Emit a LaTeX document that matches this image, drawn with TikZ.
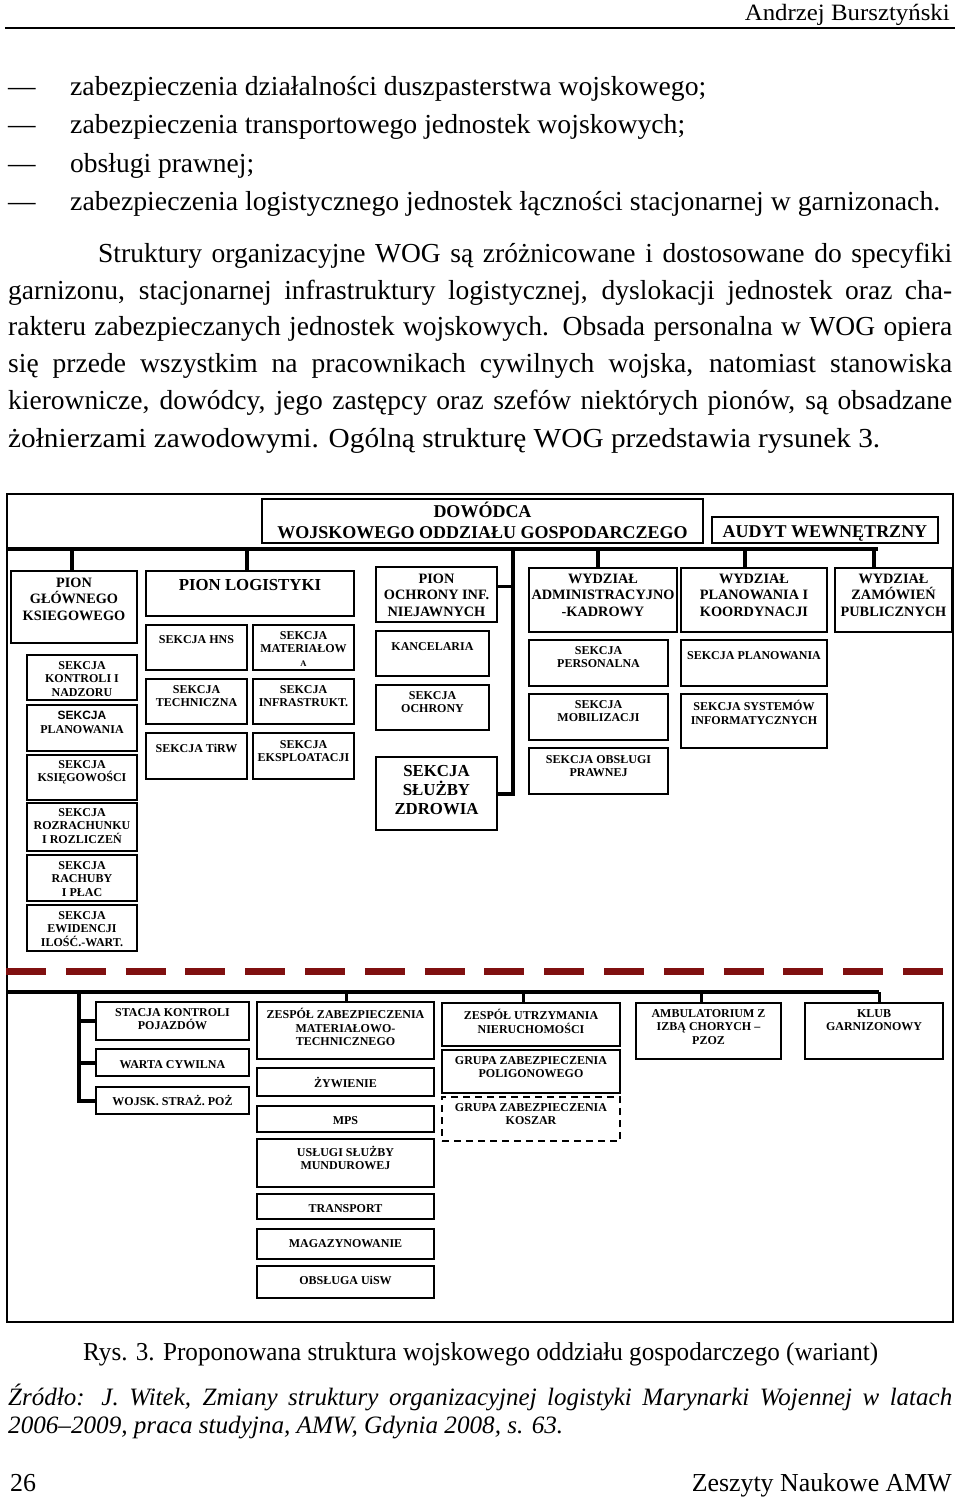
\documentclass[tikz,border=0pt]{standalone}
\usepackage{graphicx}
\usepackage{fontspec}
\setmainfont{Liberation Serif}
\newfontfamily\sansfam{Liberation Sans}
\usetikzlibrary{fit}
\newsavebox\lnbox
\newcommand\jline[2]{\sbox\lnbox{#2}\ifdim\wd\lnbox>#1\relax\resizebox{#1}{\height}{\usebox\lnbox}\else\makebox[#1][s]{#2}\fi}
\newcommand\fitw[2]{\resizebox{#1}{\height}{#2}}
\newcommand\bx[9][box]{\node[#1,fit={(#3,#4) (#5,#6)}] (#2) {};\node[#7] (#2-t) at ({(#3+#5)/2},#8) {#9};}
\definecolor{dashred}{RGB}{128,16,16}
\begin{document}
\begin{tikzpicture}[x=1pt,y=-1pt,
  box/.style={draw, line width=1.8pt, inner sep=0pt},
  dbox/.style={box, dash pattern=on 7pt off 5pt},
  bus/.style={line width=4pt},
  link/.style={line width=3pt},
  tx/.style={inner sep=0pt, align=center, anchor=north},
  t12/.style={tx, font=\bfseries\fontsize{12}{13.5}\selectfont, execute at begin node={\rule{0pt}{12pt}}, yshift=4pt},
  t14/.style={tx, font=\bfseries\fontsize{14.3}{16.3}\selectfont, execute at begin node={\rule{0pt}{14.3pt}}, yshift=5pt},
  t16/.style={tx, font=\bfseries\fontsize{16.8}{19}\selectfont, execute at begin node={\rule{0pt}{16.8pt}}, yshift=7pt},
  t18/.style={tx, font=\bfseries\fontsize{18}{21}\selectfont, execute at begin node={\rule{0pt}{18pt}}, yshift=9pt},
  bt/.style={anchor=base west, inner sep=0pt, font=\fontsize{27.5}{33}\selectfont},
  st/.style={anchor=base west, inner sep=0pt, font=\itshape\fontsize{25}{28}\selectfont},
  ct/.style={anchor=base west, inner sep=0pt, font=\fontsize{25.8}{30}\selectfont},
  ft/.style={inner sep=0pt, font=\fontsize{25.9}{30}\selectfont}
]
\useasboundingbox (0,0) rectangle (960,1497);
% header
\node[anchor=base east, inner sep=0pt, font=\fontsize{23.4}{28}\selectfont] (hdr) at (950,20) {\fitw{205pt}{Andrzej Bursztyński}};
\coordinate (hr1) at (5,28); \coordinate (hr2) at (955,28);
\draw[line width=1.5pt] (hr1) -- (hr2);
% bullets
\node[bt] (k1) at (8,95) {—};
\node[bt] (b1) at (70,95) {\fitw{636pt}{zabezpieczenia działalności duszpasterstwa wojskowego;}};
\node[bt] (k2) at (8,133) {—};
\node[bt] (b2) at (70,133) {\fitw{615pt}{zabezpieczenia transportowego jednostek wojskowych;}};
\node[bt] (k3) at (8,172) {—};
\node[bt] (b3) at (70,172) {\fitw{184pt}{obsługi prawnej;}};
\node[bt] (k4) at (8,210) {—};
\node[bt] (b4) at (70,210) {\fitw{870pt}{zabezpieczenia logistycznego jednostek łączności stacjonarnej w garnizonach.}};
% paragraph
\node[bt] (p1) at (98,262) {\jline{854pt}{Struktury organizacyjne WOG są zróżnicowane i dostosowane do specyfiki}};
\node[bt] (p2) at (8,299) {\jline{944pt}{garnizonu, stacjonarnej infrastruktury logistycznej, dyslokacji jednostek oraz cha-}};
\node[bt] (p3) at (8,335) {\jline{944pt}{rakteru zabezpieczanych jednostek wojskowych. Obsada personalna w WOG opiera}};
\node[bt] (p4) at (8,372) {\jline{944pt}{się przede wszystkim na pracownikach cywilnych wojska, natomiast stanowiska}};
\node[bt] (p5) at (8,409) {\jline{944pt}{kierownicze, dowódcy, jego zastępcy oraz szefów niektórych pionów, są obsadzane}};
\node[bt] (p6) at (8,447) {\fitw{872pt}{żołnierzami zawodowymi. Ogólną strukturę WOG przedstawia rysunek 3.}};

% ===== diagram =====
\node[box, line width=2.2pt, fit={(7,494) (953,1322)}] (frame) {};
% top bus
\coordinate (b1L) at (7,549); \coordinate (b1R) at (878,549);
\coordinate (d1) at (72,549); \coordinate (d2) at (247,549);
\coordinate (d3) at (598,549); \coordinate (d4) at (745,549); \coordinate (d5) at (874,549);
\coordinate (v1) at (513,549); \coordinate (v3) at (513,586);

\bx{dow}{262}{499}{703}{543}{t18}{511}{DOWÓDCA\\WOJSKOWEGO ODDZIAŁU GOSPODARCZEGO}
\bx{aud}{712}{517}{938}{543}{t18}{528}{AUDYT WEWNĘTRZNY}

\bx{pgk}{11}{571}{137}{643}{t14}{583}{PION\\GŁÓWNEGO\\KSIEGOWEGO}
\bx{skn}{27}{655}{137}{700}{t12}{665}{SEKCJA\\KONTROLI I\\NADZORU}
\bx{spl}{27}{705}{137}{751}{t12}{715}{{\sansfam\bfseries SEKCJA}\\PLANOWANIA}
\bx{sks}{27}{755}{137}{800}{t12}{764}{SEKCJA\\KSIĘGOWOŚCI}
\bx{srr}{27}{803}{137}{851}{t12}{812}{SEKCJA\\ROZRACHUNKU\\I ROZLICZEŃ}
\bx{srp}{27}{855}{137}{901}{t12}{865}{SEKCJA\\RACHUBY\\I PŁAC}
\bx{sew}{27}{905}{137}{951}{t12}{915}{SEKCJA\\EWIDENCJI\\ILOŚĆ.-WART.}

\bx{plog}{146}{571}{354}{616}{t16}{580}{PION LOGISTYKI}
\bx{shns}{146}{625}{247}{670}{t12}{635}{SEKCJA HNS}
\bx{smat}{253}{625}{354}{670}{t12}{635}{SEKCJA\\MATERIAŁOW\\{\fontsize{8.5}{10}\selectfont A}}
\bx{stech}{146}{679}{247}{724}{t12}{689}{SEKCJA\\TECHNICZNA}
\bx{sinf}{253}{679}{354}{724}{t12}{689}{SEKCJA\\INFRASTRUKT.}
\bx{stirw}{146}{733}{247}{779}{t12}{744}{SEKCJA TiRW}
\bx{seks}{253}{733}{354}{779}{t12}{744}{SEKCJA\\EKSPLOATACJI}

\bx{poin}{376}{567}{497}{622}{t14}{579}{PION\\OCHRONY INF.\\NIEJAWNYCH}
\bx{kanc}{376}{631}{489}{676}{t12}{642}{KANCELARIA}
\bx{soch}{376}{685}{489}{730}{t12}{695}{SEKCJA\\OCHRONY}
\bx{ssz}{376}{757}{497}{830}{t16}{772}{SEKCJA\\SŁUŻBY\\ZDROWIA}

\bx{wak}{529}{568}{677}{632}{t14}{579}{WYDZIAŁ\\ADMINISTRACYJNO\\-KADROWY}
\bx{wpk}{681}{568}{827}{632}{t14}{579}{WYDZIAŁ\\PLANOWANIA I\\KOORDYNACJI}
\bx{wzp}{835}{568}{952}{632}{t14}{579}{WYDZIAŁ\\ZAMÓWIEŃ\\PUBLICZNYCH}
\bx{sper}{529}{640}{668}{686}{t12}{650}{SEKCJA\\PERSONALNA}
\bx{smob}{529}{694}{668}{740}{t12}{704}{SEKCJA\\MOBILIZACJI}
\bx{sobp}{529}{748}{668}{794}{t12}{759}{SEKCJA OBSŁUGI\\PRAWNEJ}
\bx{splan}{681}{640}{827}{686}{t12}{651}{SEKCJA PLANOWANIA}
\bx{ssi}{681}{694}{827}{748}{t12}{704}{SEKCJA SYSTEMÓW\\INFORMATYCZNYCH}

\draw[bus] (b1L) -- (b1R);
\draw[bus] (d1) -- (d1 |- pgk.north);
\draw[bus] (d2) -- (d2 |- plog.north);
\draw[bus] (d3) -- (d3 |- wak.north);
\draw[bus] (d4) -- (d4 |- wpk.north);
\draw[bus] (d5) -- (d5 |- wzp.north);
\draw[bus] (v1) -- (v1 |- ssz.east) -- (ssz.east);
\draw[link] (v3) -- (v3 -| poin.east);

% red dashed separator
\coordinate (r1) at (6,971); \coordinate (r2) at (943,971);
\draw[dashred, line width=7pt, dash pattern=on 40pt off 19.8pt] (r1) -- (r2);

% bottom part
\coordinate (b2L) at (7,992); \coordinate (b2R) at (879,992);
\coordinate (e1) at (79,992); \coordinate (e2) at (346,992);
\coordinate (e3) at (523,992); \coordinate (e4) at (701,992); \coordinate (e5) at (879,992);

\bx{skp}{96}{1002}{249}{1040}{t12}{1012}{STACJA KONTROLI\\POJAZDÓW}
\bx{wcy}{96}{1049}{249}{1076}{t12}{1060}{WARTA CYWILNA}
\bx{wsp}{96}{1087}{249}{1114}{t12}{1097}{WOJSK. STRAŻ. POŻ}
\bx{zzm}{257}{1002}{434}{1059}{t12}{1012}{ZESPÓŁ ZABEZPIECZENIA\\MATERIAŁOWO-\\TECHNICZNEGO}
\bx{zyw}{257}{1068}{434}{1096}{t12}{1079}{ŻYWIENIE}
\bx{mps}{257}{1106}{434}{1132}{t12}{1116}{MPS}
\bx{usm}{257}{1139}{434}{1187}{t12}{1150}{USŁUGI SŁUŻBY\\MUNDUROWEJ}
\bx{trn}{257}{1194}{434}{1219}{t12}{1204}{TRANSPORT}
\bx{mag}{257}{1229}{434}{1259}{t12}{1239}{MAGAZYNOWANIE}
\bx{ouw}{257}{1266}{434}{1298}{t12}{1276}{OBSŁUGA UiSW}
\bx{zun}{442}{1003}{620}{1046}{t12}{1013}{ZESPÓŁ UTRZYMANIA\\NIERUCHOMOŚCI}
\bx{gzp}{442}{1050}{620}{1093}{t12}{1060}{GRUPA ZABEZPIECZENIA\\POLIGONOWEGO}
\bx[dbox]{gzk}{442}{1097}{620}{1141}{t12}{1107}{GRUPA ZABEZPIECZENIA\\KOSZAR}
\bx{amb}{636}{1003}{781}{1059}{t12}{1013}{AMBULATORIUM Z\\IZBĄ CHORYCH –\\PZOZ}
\bx{klb}{805}{1003}{943}{1059}{t12}{1013}{KLUB\\GARNIZONOWY}

\draw[bus] (b2L) -- (b2R);
\draw[bus] (e1) -- (e1 |- wsp.west) -- (wsp.west);
\draw[bus] (e1 |- skp.west) -- (skp.west);
\draw[bus] (e1 |- wcy.west) -- (wcy.west);
\draw[link] (e2) -- (e2 |- zzm.north);
\draw[link] (e3) -- (e3 |- zun.north);
\draw[link] (e4) -- (e4 |- amb.north);
\draw[link] (e5) -- (e5 |- klb.north);

% caption and source
\node[ct] (cap) at (83,1360) {\fitw{795pt}{Rys. 3. Proponowana struktura wojskowego oddziału gospodarczego (wariant)}};
\node[st] (src1) at (8,1405) {\jline{944pt}{Źródło: J. Witek, Zmiany struktury organizacyjnej logistyki Marynarki Wojennej w latach}};
\node[st] (src2) at (8,1433) {\fitw{555pt}{2006–2009, praca studyjna, AMW, Gdynia 2008, s. 63.}};
% footer
\node[ft, anchor=base west] (pg) at (10,1491) {26};
\node[ft, anchor=base east] (jn) at (952,1491) {\fitw{260pt}{Zeszyty Naukowe AMW}};
\end{tikzpicture}
\end{document}
